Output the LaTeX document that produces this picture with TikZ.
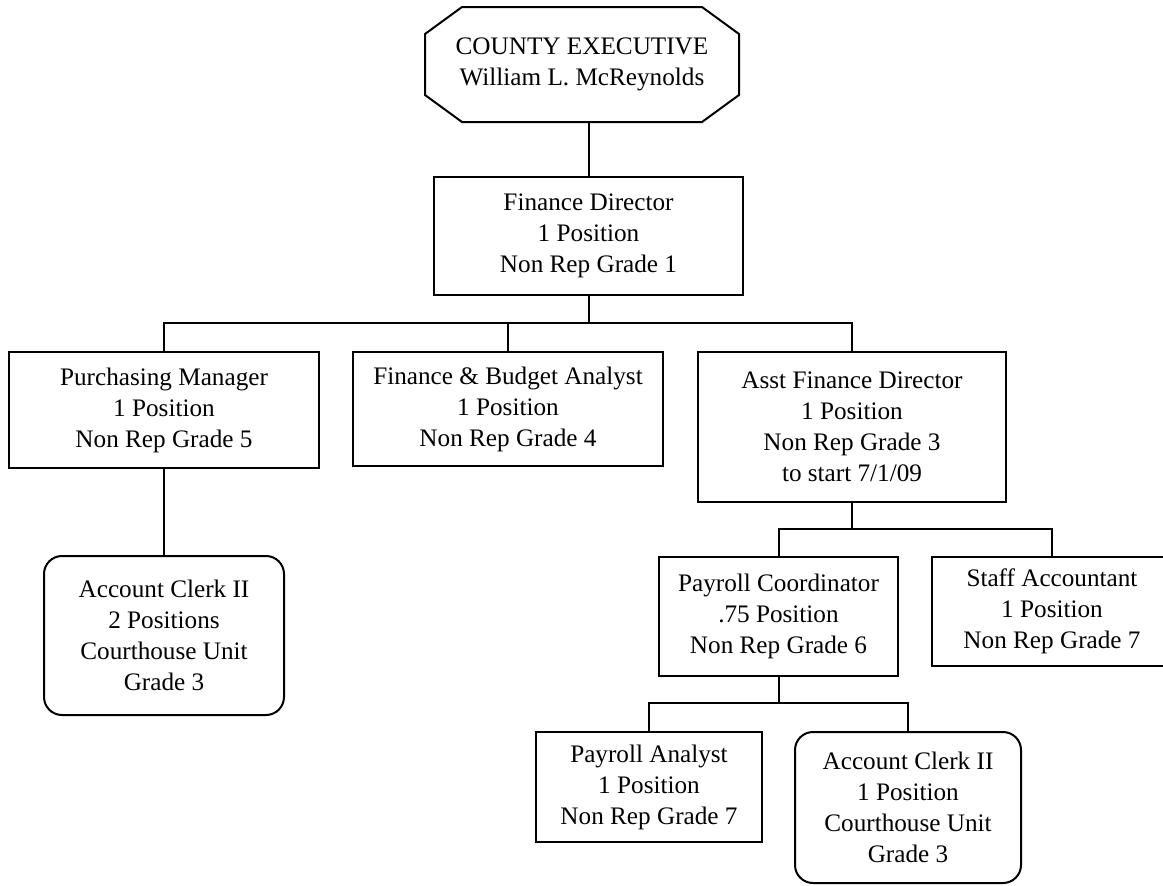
\documentclass[tikz,border=0pt]{standalone}
\usepackage{fontspec}
\setmainfont{Liberation Serif}
\usetikzlibrary{calc}

\tikzset{
  post/.style={draw, line width=1pt, inner sep=0pt, outer sep=0pt,
               align=center, font=\fontsize{12.6}{15.5}\selectfont},
  roundpost/.style={post, rounded corners=9pt},
  wire/.style={line width=1pt, line join=miter}
}

\begin{document}
\begin{tikzpicture}[x=0.5pt, y=-0.5pt]
  \clip (0,0) rectangle (1163,885);

  % top of the chart
  \node[post, draw=none, minimum width=157pt, minimum height=57.5pt] (exec) at (582,64.5)
    {COUNTY EXECUTIVE\\William L. McReynolds};
  \draw[wire] ([xshift=18.5pt]exec.north west) -- ([xshift=-18.5pt]exec.north east)
    -- ([yshift=-13.5pt]exec.north east) -- ([yshift=13.5pt]exec.south east)
    -- ([xshift=-18.5pt]exec.south east) -- ([xshift=18.5pt]exec.south west)
    -- ([yshift=13.5pt]exec.south west) -- ([yshift=-13.5pt]exec.north west) -- cycle;

  \node[post, minimum width=154.5pt, minimum height=59pt] (fd) at (588.5,236)
    {Finance Director\\1 Position\\Non Rep Grade 1};

  % second level
  \node[post, minimum width=155pt, minimum height=58pt] (pm) at (164,410)
    {Purchasing Manager\\1 Position\\Non Rep Grade 5};
  \node[post, minimum width=155pt, minimum height=57pt] (fba) at (508,409)
    {Finance \& Budget Analyst\\1 Position\\Non Rep Grade 4};
  \node[post, minimum width=154pt, minimum height=75pt] (afd) at (852,427)
    {Asst Finance Director\\1 Position\\Non Rep Grade 3\\to start 7/1/09};

  % third level
  \node[roundpost, minimum width=120pt, minimum height=79.5pt] (ac1) at (164,635.5)
    {Account Clerk II\\2 Positions\\Courthouse Unit\\Grade 3};
  \node[post, minimum width=119.5pt, minimum height=59.5pt] (pc) at (778.5,616.5)
    {Payroll Coordinator\\.75 Position\\Non Rep Grade 6};
  \node[post, minimum width=120pt, minimum height=54.5pt] (sa) at (1052,611.5)
    {Staff Accountant\\1 Position\\Non Rep Grade 7};

  % fourth level
  \node[post, minimum width=113pt, minimum height=55pt] (pa) at (649,787)
    {Payroll Analyst\\1 Position\\Non Rep Grade 7};
  \node[roundpost, minimum width=113pt, minimum height=75.5pt] (ac2) at (908,807.5)
    {Account Clerk II\\1 Position\\Courthouse Unit\\Grade 3};

  % bus lines
  \coordinate (b1) at (0,323);
  \coordinate (b2) at (0,529);
  \coordinate (b3) at (0,703);

  % connectors
  \draw[wire] (fd.north |- exec.south) -- (fd.north);
  \draw[wire] (fd.south) -- (fd.south |- b1);
  \draw[wire] (pm.north) -- (pm.north |- b1) -- (afd.north |- b1) -- (afd.north);
  \draw[wire] (fba.north) -- (fba.north |- b1);
  \draw[wire] (pm.south) -- (ac1.north);
  \draw[wire] (afd.south) -- (afd.south |- b2);
  \draw[wire] (pc.north) -- (pc.north |- b2) -- (sa.north |- b2) -- (sa.north);
  \draw[wire] (pc.south) -- (pc.south |- b3);
  \draw[wire] (pa.north) -- (pa.north |- b3) -- (ac2.north |- b3) -- (ac2.north);
\end{tikzpicture}
\end{document}
